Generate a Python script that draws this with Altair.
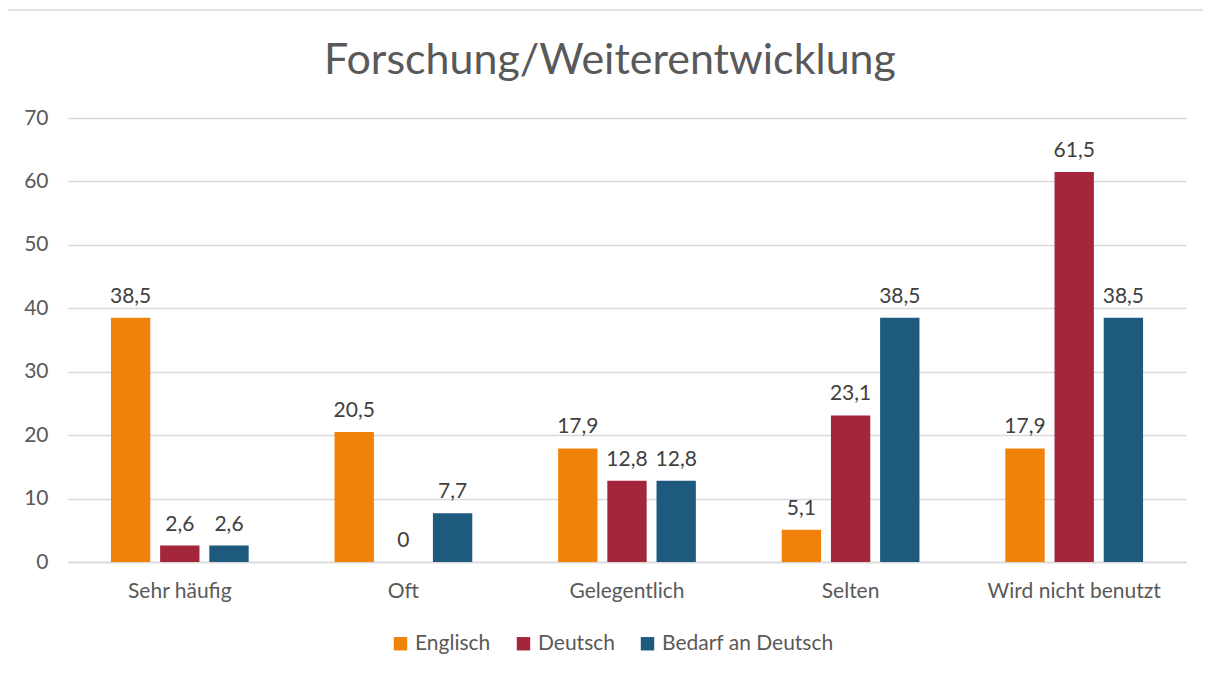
import altair as alt
import pandas as pd

categories = ["Sehr häufig", "Oft", "Gelegentlich", "Selten", "Wird nicht benutzt"]
series = ["Englisch", "Deutsch", "Bedarf an Deutsch"]
englisch = [38.5, 20.5, 17.9, 5.1, 17.9]
deutsch = [2.6, 0.0, 12.8, 23.1, 61.5]
bedarf = [2.6, 7.7, 12.8, 38.5, 38.5]
colors = ["#F0820A", "#A3263A", "#1D5A7E"]

rows = []
for vals, s in zip([englisch, deutsch, bedarf], series):
    for c, v in zip(categories, vals):
        lab = ("%g" % v).replace(".", ",")
        rows.append({"Kategorie": c, "Serie": s, "Wert": v, "Label": lab})
df = pd.DataFrame(rows)

FONT = "Lato"

x = alt.X("Kategorie:N", sort=categories, title=None,
          scale=alt.Scale(paddingInner=0.34, paddingOuter=0.17),
          axis=alt.Axis(labelAngle=0, labelFontSize=21, labelColor="#595959",
                        labelPadding=18, ticks=False, domainColor="#d9d9d9",
                        domainWidth=1.3, labelFont=FONT))
xo = alt.XOffset("Serie:N", sort=series,
                 scale=alt.Scale(paddingInner=0.2, paddingOuter=0.1))

base = alt.Chart(df).encode(x=x, xOffset=xo)

bars = base.mark_bar().encode(
    y=alt.Y("Wert:Q", title=None,
            scale=alt.Scale(domain=[0, 70]),
            axis=alt.Axis(values=[0, 10, 20, 30, 40, 50, 60, 70], labelFontSize=21,
                          labelColor="#595959", ticks=False, domain=False,
                          gridColor="#d9d9d9", gridWidth=1.3, labelPadding=20,
                          labelFont=FONT)),
    color=alt.Color("Serie:N", sort=series,
                    scale=alt.Scale(domain=series, range=colors),
                    legend=alt.Legend(orient="none", direction="horizontal",
                                      legendX=322, legendY=515, title=None,
                                      symbolType="square", symbolSize=180,
                                      symbolStrokeWidth=0, labelLimit=400,
                                      labelFontSize=21, labelColor="#595959",
                                      labelFont=FONT, columnPadding=22,
                                      labelOffset=4)),
)

labels = base.mark_text(baseline="bottom", dy=-11, fontSize=21, color="#404040",
                        font=FONT).encode(
    y=alt.Y("Wert:Q"),
    text="Label:N",
)

border = alt.Chart(pd.DataFrame({"a": [0]})).mark_rect(
    fill=None, stroke="#d9d9d9", strokeWidth=1.3).encode(
    x=alt.value(-61), x2=alt.value(1160), y=alt.value(-108), y2=alt.value(620))

chart = alt.layer(border, bars, labels).properties(
    width=1118, height=444,
    title=alt.TitleParams("Forschung/Weiterentwicklung", fontSize=43,
                          font=FONT, fontWeight="normal", color="#595959",
                          anchor="middle", offset=-74, dx=-17),
    autosize=alt.AutoSizeParams(type="none"),
    padding={"left": 60, "top": 110, "right": 17, "bottom": 112},
).configure_view(stroke=None)

chart.save("out.html", embed_options={"renderer": "svg", "actions": False})
